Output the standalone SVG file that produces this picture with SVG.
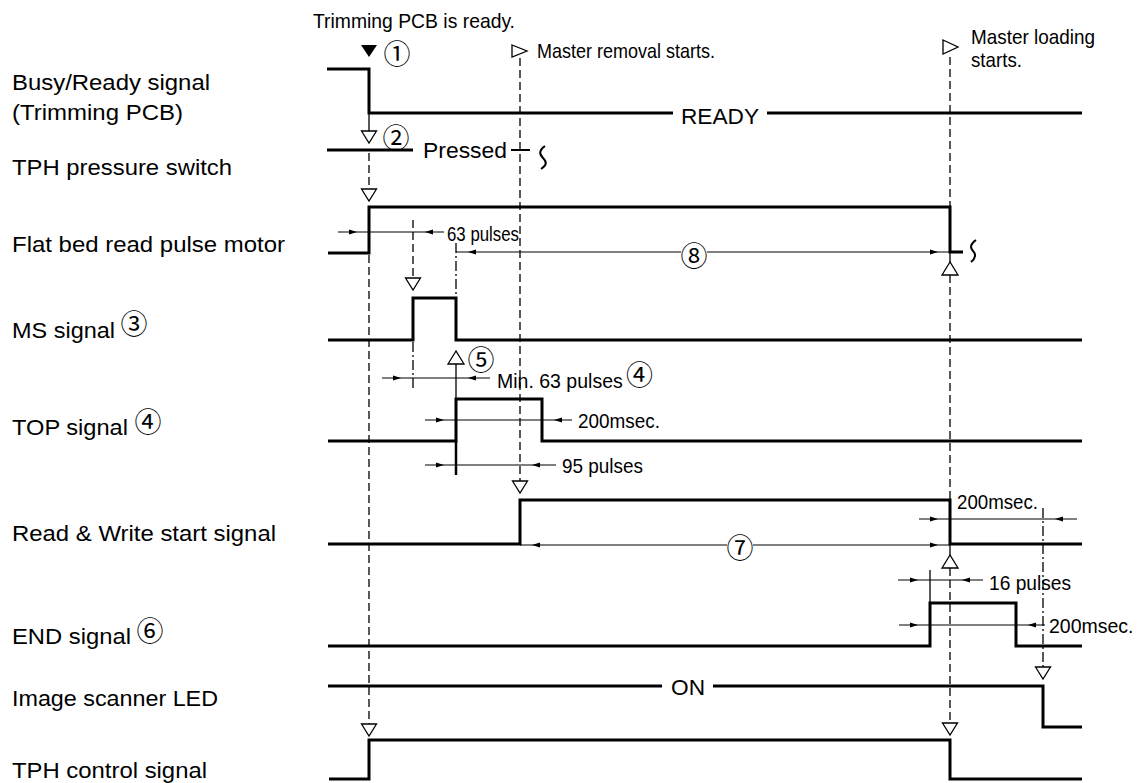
<svg xmlns="http://www.w3.org/2000/svg" xmlns:xlink="http://www.w3.org/1999/xlink" width="1138" height="783" viewBox="0 0 1138 783">
<style>
.sig{fill:none;stroke:#000;stroke-width:3;stroke-linejoin:miter;stroke-linecap:butt}
.dim{fill:none;stroke:#000;stroke-width:1.2}
.dash{fill:none;stroke:#000;stroke-width:1.3;stroke-dasharray:8 4}
.dd{fill:none;stroke:#000;stroke-width:1.3;stroke-dasharray:10 3 2 3}
.thin{fill:none;stroke:#000;stroke-width:1.3}
.sq{fill:none;stroke:#000;stroke-width:2}
.tri{fill:#fff;stroke:#000;stroke-width:1.3;stroke-linejoin:miter}
.lbl{font-family:"Liberation Sans",Arial,sans-serif;font-size:22px;fill:#000}
.ann{font-family:"Liberation Sans",Arial,sans-serif;font-size:21px;fill:#000}
.cn{font-family:"Noto Sans CJK JP","DejaVu Sans",sans-serif;font-size:27px;fill:#000;text-anchor:middle;dominant-baseline:central}
.cni{font-family:"Noto Sans CJK JP","DejaVu Sans",sans-serif;font-size:27px}
</style>
<defs>
<path id="ar" d="M0,0 L-8,-2.6 L-8,2.6 Z" fill="#000"/>
<path id="al" d="M0,0 L8,-2.6 L8,2.6 Z" fill="#000"/>
<polygon id="tdn" class="tri" points="-7.5,0 7.5,0 0,12"/>
<polygon id="tup" class="tri" points="0,0 -8,13 8,13"/>
</defs>
<rect width="1138" height="783" fill="#fff"/>

<g id="labels">
<text class="lbl" x="12" y="90" textLength="198" lengthAdjust="spacingAndGlyphs">Busy/Ready signal</text>
<text class="lbl" x="12" y="120" textLength="171" lengthAdjust="spacingAndGlyphs">(Trimming PCB)</text>
<text class="lbl" x="12" y="175" textLength="220" lengthAdjust="spacingAndGlyphs">TPH pressure switch</text>
<text class="lbl" x="12" y="252" textLength="273" lengthAdjust="spacingAndGlyphs">Flat bed read pulse motor</text>
<text class="lbl" x="12" y="338" textLength="103" lengthAdjust="spacingAndGlyphs">MS signal</text>
<text class="cn" x="134" y="322">③</text>
<text class="lbl" x="12" y="435" textLength="116" lengthAdjust="spacingAndGlyphs">TOP signal</text>
<text class="cn" x="148" y="420">④</text>
<text class="lbl" x="12" y="541" textLength="264" lengthAdjust="spacingAndGlyphs">Read &amp; Write start signal</text>
<text class="lbl" x="12" y="644" textLength="119" lengthAdjust="spacingAndGlyphs">END signal</text>
<text class="cn" x="150" y="629">⑥</text>
<text class="lbl" x="12" y="706" textLength="206" lengthAdjust="spacingAndGlyphs">Image scanner LED</text>
<text class="lbl" x="12" y="778" textLength="195" lengthAdjust="spacingAndGlyphs">TPH control signal</text>
</g>

<g id="events">
<text class="ann" x="313" y="28" textLength="202" lengthAdjust="spacingAndGlyphs">Trimming PCB is ready.</text>
<polygon points="361,45 377,45 369,57" fill="#000"/>
<text class="cn" x="397" y="52">①</text>
<polygon class="tri" points="512,45 527,51 512,57"/>
<text class="ann" x="537" y="58" textLength="178" lengthAdjust="spacingAndGlyphs">Master removal starts.</text>
<polygon class="tri" points="943,40 958,47 943,54"/>
<text class="ann" x="971" y="44" textLength="124" lengthAdjust="spacingAndGlyphs">Master loading</text>
<text class="ann" x="971" y="67" textLength="51" lengthAdjust="spacingAndGlyphs">starts.</text>
</g>

<g id="signals">
<g id="busy-ready">
<path class="sig" d="M327,69 H369 V113 H673 M767,113 H1082"/>
<text class="lbl" x="681" y="124" textLength="78" lengthAdjust="spacingAndGlyphs">READY</text>
</g>
<g id="pressure-switch">
<path class="sig" d="M327,150 H413"/>
<text class="lbl" x="423" y="158" textLength="84" lengthAdjust="spacingAndGlyphs">Pressed</text>
<path class="sig" d="M511,150 H530" style="stroke-width:2"/>
<path class="sq" d="M545,146 C539,150 539,154 543,158 C547,162 547,165 541,169"/>
</g>
<g id="flat-bed">
<path class="sig" d="M328,253 H369 V207 H950 V252 H963"/>
<path class="sq" d="M976,240 C970,244 970,248 973,251 C976,254 976,258 971,262"/>
</g>
<g id="ms"><path class="sig" d="M328,340 H413 V298 H456 V340 H1082"/></g>
<g id="top"><path class="sig" d="M328,441 H456 V399 H542 V441 H1082"/></g>
<g id="read-write"><path class="sig" d="M328,544 H520 V500 H950 V544 H1082"/></g>
<g id="end"><path class="sig" d="M328,646 H930 V603 H1016 V646 H1082"/></g>
<g id="led">
<path class="sig" d="M328,686 H662 M713,686 H1043 V727 H1082"/>
<text class="lbl" x="671" y="695" textLength="34" lengthAdjust="spacingAndGlyphs">ON</text>
</g>
<g id="tph-control"><path class="sig" d="M329,779 H369 V740 H950 V779 H1082"/></g>
</g>

<g id="connectors">
<path class="thin" d="M369,113 V131"/>
<use href="#tdn" x="369" y="131"/>
<text class="cn" x="396" y="136">②</text>
<path class="dash" d="M369,153 V189"/>
<use href="#tdn" x="369" y="189"/>
<path class="dash" d="M369,255 V724"/>
<use href="#tdn" x="369" y="724"/>
<path class="dash" d="M520,58 V481"/>
<use href="#tdn" x="520" y="481"/>
<path class="dash" d="M950,57 V207"/>
<path class="thin" d="M950,252 V262"/>
<use href="#tup" x="950" y="262"/>
<path class="dash" d="M950,275 V500"/>
<path class="thin" d="M950,544 V555"/>
<use href="#tup" x="950" y="555"/>
<path class="dash" d="M950,568 V723"/>
<use href="#tdn" x="950" y="723"/>
<path class="dash" d="M413,220 V278"/>
<use href="#tdn" x="413" y="278"/>
<path class="dd" d="M413,342 V388"/>
<path class="dd" d="M456,243 V298"/>
<use href="#tup" x="456" y="351"/>
<text class="cn" x="481" y="358">⑤</text>
<path class="thin" d="M456,364 V399"/>
<path class="sig" d="M456,441 V475" style="stroke-width:2.5"/>
<path class="dd" d="M1043,508 V667"/>
<use href="#tdn" x="1043" y="667"/>
<path class="thin" d="M930,570 V603"/>

<path class="dim" d="M338,232 H444"/>
<use href="#ar" x="357" y="232"/><use href="#al" x="425" y="232"/>
<text class="ann" x="447" y="241" textLength="72" lengthAdjust="spacingAndGlyphs">63 pulses</text>

<path class="dim" d="M456,252 H681 M707,252 H950"/>
<use href="#al" x="468" y="252"/><use href="#ar" x="938" y="252"/>
<text class="cn" x="694" y="254">⑧</text>

<path class="dim" d="M382,378 H490"/>
<use href="#ar" x="401" y="378"/><use href="#al" x="468" y="378"/>
<text class="ann" x="497" y="388" style="font-size:19.5px">Min. 63 pulses <tspan class="cni" x="626" y="385">④</tspan></text>

<path class="dim" d="M425,420 H572"/>
<use href="#ar" x="444" y="420"/><use href="#al" x="554" y="420"/>
<text class="ann" x="578" y="428" textLength="82" lengthAdjust="spacingAndGlyphs">200msec.</text>

<path class="dim" d="M425,465 H556"/>
<use href="#ar" x="444" y="465"/><use href="#al" x="532" y="465"/>
<text class="ann" x="562" y="473" textLength="81" lengthAdjust="spacingAndGlyphs">95 pulses</text>

<path class="dim" d="M520,545 H727 M753,545 H950"/>
<use href="#al" x="532" y="545"/><use href="#ar" x="938" y="545"/>
<text class="cn" x="740" y="546">⑦</text>

<path class="dim" d="M919,519 H1077"/>
<use href="#ar" x="938" y="519"/><use href="#al" x="1055" y="519"/>
<text class="ann" x="957" y="509" textLength="81" lengthAdjust="spacingAndGlyphs">200msec.</text>

<path class="dim" d="M898,580 H983"/>
<use href="#ar" x="918" y="580"/><use href="#al" x="962" y="580"/>
<text class="ann" x="989" y="590" textLength="82" lengthAdjust="spacingAndGlyphs">16 pulses</text>

<path class="dim" d="M899,625 H1045"/>
<use href="#ar" x="918" y="625"/><use href="#al" x="1028" y="625"/>
<text class="ann" x="1049" y="633" style="font-size:19.5px">200msec.</text>
</g>
</svg>
